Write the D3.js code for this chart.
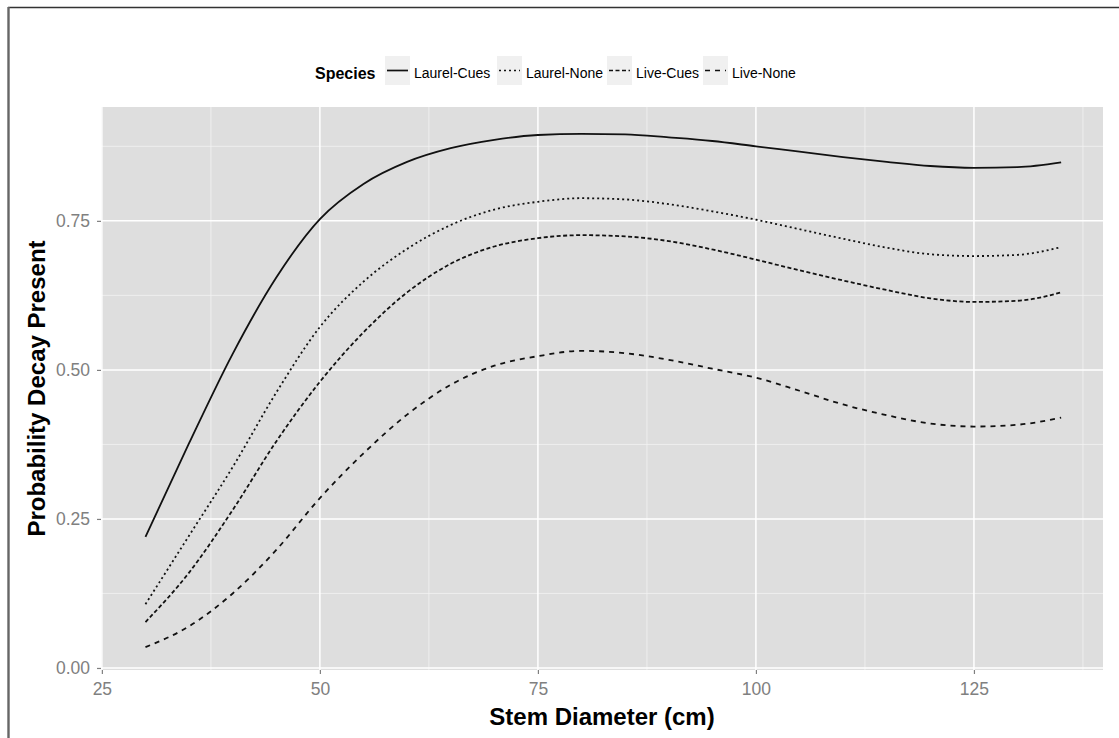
<!DOCTYPE html>
<html>
<head>
<meta charset="utf-8">
<script src="https://cdn.jsdelivr.net/npm/d3@7"></script>
<style>
  body { margin: 0; background: #fff; }
  svg { display: block; font-family: "Liberation Sans", Arial, sans-serif; }
</style>
</head>
<body>
<svg id="chart" width="1119" height="738"></svg>
<script>
// stem diameter (cm) where the curves were read
const diameters = [30, 35, 40, 45, 50, 55, 60, 65, 70, 75, 80, 85, 90, 95, 100, 105, 110, 115, 120, 125, 130, 135];

// predicted probability of decay, one array per species/treatment
const laurelCues = [0.220, 0.377, 0.527, 0.655, 0.753, 0.812, 0.849, 0.872, 0.886, 0.894, 0.896, 0.895, 0.890, 0.884, 0.875, 0.866, 0.857, 0.849, 0.842, 0.839, 0.840, 0.848];
const laurelNone = [0.107, 0.222, 0.337, 0.462, 0.572, 0.648, 0.703, 0.743, 0.769, 0.782, 0.788, 0.786, 0.778, 0.766, 0.752, 0.736, 0.720, 0.705, 0.694, 0.691, 0.693, 0.706];
const liveCues = [0.077, 0.160, 0.265, 0.380, 0.480, 0.563, 0.630, 0.678, 0.707, 0.721, 0.726, 0.724, 0.716, 0.702, 0.685, 0.667, 0.650, 0.634, 0.620, 0.614, 0.616, 0.630];
const liveNone = [0.035, 0.070, 0.125, 0.198, 0.285, 0.360, 0.425, 0.475, 0.507, 0.523, 0.532, 0.528, 0.517, 0.502, 0.487, 0.465, 0.442, 0.424, 0.410, 0.405, 0.408, 0.420];

const seriesNames = ['Laurel-Cues', 'Laurel-None', 'Live-Cues', 'Live-None'];
const seriesValues = [laurelCues, laurelNone, liveCues, liveNone];

const xTicks = [25, 50, 75, 100, 125];
const yTicks = [0, 0.25, 0.5, 0.75];
const xMinor = [37.5, 62.5, 87.5, 112.5, 137.5];
const yMinor = [0.125, 0.375, 0.625, 0.875];

// visible axis ranges as in the original plot
const xDomain = [24.9, 139.8];
const yDomain = [-0.0034, 0.941];

// line types like ggplot's solid / dotted / dashed / longer dashes
const dashes = { 'Laurel-Cues': null, 'Laurel-None': '2,3', 'Live-Cues': '4,2.5', 'Live-None': '5,5' };

const svg = d3.select('#chart');
const panel = { left: 101, right: 1103, top: 107, bottom: 670 };

const x = d3.scaleLinear().domain(xDomain).range([panel.left, panel.right]);
const y = d3.scaleLinear().domain(yDomain).range([panel.bottom, panel.top]);

// frame lines at top and left of the figure
svg.append('line').attr('x1', 8).attr('x2', 1119).attr('y1', 7.5).attr('y2', 7.5)
  .attr('stroke', '#333').attr('stroke-width', 1.6);
svg.append('line').attr('x1', 8.5).attr('x2', 8.5).attr('y1', 7).attr('y2', 738)
  .attr('stroke', '#666').attr('stroke-width', 2.4);

// panel background
svg.append('rect')
  .attr('x', panel.left).attr('y', panel.top)
  .attr('width', panel.right - panel.left).attr('height', panel.bottom - panel.top)
  .attr('fill', '#dedede');

// grid lines
const grid = svg.append('g');
grid.selectAll('.xminor').data(xMinor).enter().append('line')
  .attr('x1', d => x(d)).attr('x2', d => x(d)).attr('y1', panel.top).attr('y2', panel.bottom)
  .attr('stroke', '#f2f2f2').attr('stroke-width', 0.8);
grid.selectAll('.yminor').data(yMinor).enter().append('line')
  .attr('x1', panel.left).attr('x2', panel.right).attr('y1', d => y(d)).attr('y2', d => y(d))
  .attr('stroke', '#f2f2f2').attr('stroke-width', 0.8);
grid.selectAll('.xmajor').data(xTicks).enter().append('line')
  .attr('x1', d => x(d)).attr('x2', d => x(d)).attr('y1', panel.top).attr('y2', panel.bottom)
  .attr('stroke', '#fff').attr('stroke-width', 1.5);
grid.selectAll('.ymajor').data(yTicks).enter().append('line')
  .attr('x1', panel.left).attr('x2', panel.right).attr('y1', d => y(d)).attr('y2', d => y(d))
  .attr('stroke', '#fff').attr('stroke-width', 1.5);

// axes
const xAxis = svg.append('g')
  .attr('transform', `translate(0,${panel.bottom})`)
  .call(d3.axisBottom(x).tickValues(xTicks).tickSize(4).tickPadding(9).tickFormat(d3.format('d')));
const yAxis = svg.append('g')
  .attr('transform', `translate(${panel.left},0)`)
  .call(d3.axisLeft(y).tickValues(yTicks).tickSize(4).tickPadding(7).tickFormat(d3.format('.2f')));
[xAxis, yAxis].forEach(a => {
  a.select('.domain').remove();
  a.selectAll('.tick line').attr('stroke', '#7f7f7f').attr('stroke-width', 1.2);
  a.selectAll('.tick text').attr('fill', '#808080').attr('font-size', 17.5)
    .attr('font-family', '"Liberation Sans", Arial, sans-serif');
});

// curves
const line = d3.line()
  .x((d, i) => x(diameters[i]))
  .y(d => y(d))
  .curve(d3.curveMonotoneX);

svg.append('g').selectAll('path')
  .data(seriesNames)
  .enter().append('path')
  .attr('d', (name, i) => line(seriesValues[i]))
  .attr('fill', 'none')
  .attr('stroke', '#111')
  .attr('stroke-width', 1.8)
  .attr('stroke-dasharray', name => dashes[name]);

// axis titles
svg.append('text')
  .attr('x', (panel.left + panel.right) / 2).attr('y', 725)
  .attr('text-anchor', 'middle').attr('font-size', 24).attr('font-weight', 'bold')
  .text('Stem Diameter (cm)');
svg.append('text')
  .attr('transform', `translate(45,${(panel.top + panel.bottom) / 2}) rotate(-90)`)
  .attr('text-anchor', 'middle').attr('font-size', 24).attr('font-weight', 'bold')
  .text('Probability Decay Present');

// legend along the top
const legend = svg.append('g');
legend.append('text')
  .attr('x', 315).attr('y', 73).attr('dy', '0.35em')
  .attr('font-size', 16).attr('font-weight', 'bold')
  .text('Species');
const keyX = [385, 497, 607, 703];
const keys = legend.selectAll('.key').data(seriesNames).enter().append('g')
  .attr('transform', (d, i) => `translate(${keyX[i]},56)`);
keys.append('rect').attr('width', 25).attr('height', 29).attr('fill', '#f0f0f0');
keys.append('line')
  .attr('x1', 2).attr('x2', 23).attr('y1', 14.5).attr('y2', 14.5)
  .attr('stroke', '#111').attr('stroke-width', 1.7)
  .attr('stroke-dasharray', d => dashes[d]);
keys.append('text')
  .attr('x', 29).attr('y', 17).attr('dy', '0.35em')
  .attr('font-size', 14)
  .text(d => d);
</script>
</body>
</html>
